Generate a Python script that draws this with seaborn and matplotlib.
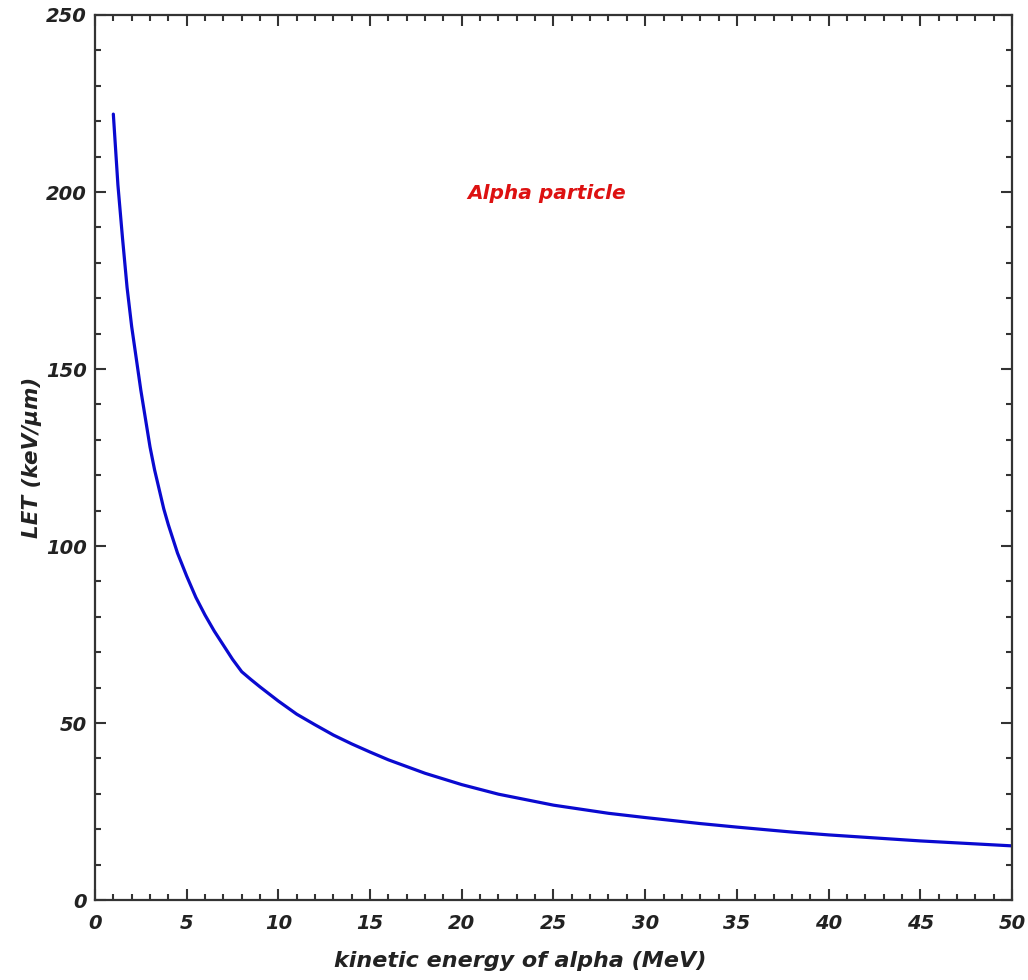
import matplotlib
matplotlib.use("Agg")
import matplotlib.pyplot as plt
import seaborn as sns
import pandas as pd
from matplotlib.ticker import MultipleLocator

energy_mev = [1, 1.25, 1.5, 1.75, 2, 2.25, 2.5, 2.75, 3, 3.25, 3.5, 3.75, 4, 4.5, 5, 5.5,
              6, 6.5, 7, 7.5, 8, 8.5, 9, 10, 11, 12, 13, 14, 15, 16, 18, 20, 22, 25, 28,
              30, 33, 35, 38, 40, 45, 50]
let_kev_um = [222, 202, 187, 173, 162, 153, 144, 136, 128, 121.5, 116, 110.5, 106, 98, 91.5,
              85.5, 80.5, 76, 72, 68, 64.5, 62.3, 60.2, 56.2, 52.5, 49.5, 46.6, 44.1, 41.8,
              39.6, 35.8, 32.6, 29.9, 26.8, 24.5, 23.3, 21.6, 20.6, 19.2, 18.4, 16.7, 15.3]

x_ticks = [0, 5, 10, 15, 20, 25, 30, 35, 40, 45, 50]
y_ticks = [0, 50, 100, 150, 200, 250]

sns.set_style("ticks")
plt.rcParams['font.family'] = ['DejaVu Sans']

df = pd.DataFrame({"E": energy_mev, "LET": let_kev_um})

fig = plt.figure(figsize=(10.28, 9.8), dpi=100)
ax = fig.add_axes([0.0924, 0.0816, 0.892, 0.9031])

sns.lineplot(data=df, x="E", y="LET", ax=ax, color="#0a0ad0", linewidth=2.3)

ax.set_xlim(0, 50)
ax.set_ylim(0, 250)
ax.set_xticks(x_ticks)
ax.set_yticks(y_ticks)
ax.xaxis.set_minor_locator(MultipleLocator(1))
ax.yaxis.set_minor_locator(MultipleLocator(10))

for s in ax.spines.values():
    s.set_visible(True)
    s.set_linewidth(1.6)
    s.set_color("#333333")

ax.tick_params(which="both", direction="in", top=True, right=True, color="#333333", width=1.5)
ax.tick_params(which="major", length=8)
ax.tick_params(which="minor", length=4.5)
ax.tick_params(axis="x", which="major", pad=10)
ax.tick_params(axis="y", which="major", pad=6)

for lbl in ax.get_xticklabels() + ax.get_yticklabels():
    lbl.set_fontsize(14)
    lbl.set_fontweight("bold")
    lbl.set_fontstyle("italic")
    lbl.set_color("#222222")

ax.set_xlabel("kinetic energy of alpha (MeV)", fontsize=16, fontweight="bold",
              fontstyle="italic", color="#222222")
ax.xaxis.set_label_coords(0.4635, -0.058)
ax.set_ylabel("LET (keV/μm)", fontsize=15.5, fontweight="bold",
              fontstyle="italic", color="#222222", labelpad=3)

ax.text(24.6, 199.5, "Alpha particle", color="#dd1111", fontsize=14.5, fontweight="bold",
        fontstyle="italic", ha="center", va="center")

fig.savefig("out.png", dpi=100)
